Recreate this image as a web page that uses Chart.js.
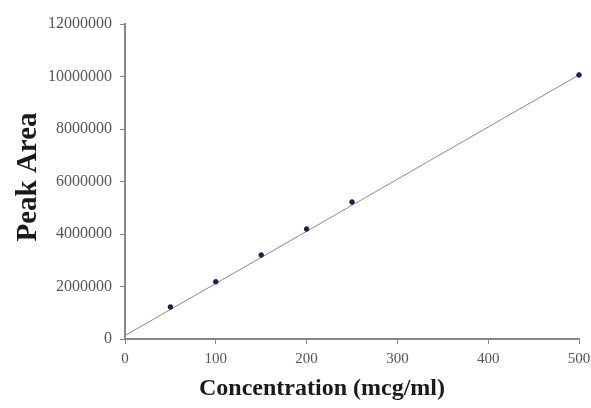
<!DOCTYPE html>
<html><head><meta charset="utf-8">
<script src="https://cdn.jsdelivr.net/npm/chart.js@4/dist/chart.umd.min.js"></script>
<style>html,body{margin:0;padding:0;background:#fff}#wrap{width:591px;height:408px}</style>
</head><body><div id="wrap"><canvas id="c" width="591" height="408"></canvas></div>
<script>
const concentrations = [50, 100, 150, 200, 250, 500];
const peakAreas = [1220000, 2180000, 3200000, 4190000, 5220000, 10060000];
const trendX = [0, 500];
const trendY = [130000, 10060000];
const xTicks = [0, 100, 200, 300, 400, 500];
const yTicks = [0, 2000000, 4000000, 6000000, 8000000, 10000000, 12000000];
const xTitle = 'Concentration (mcg/ml)';
const yTitle = 'Peak Area';

const pts = concentrations.map((x, i) => ({x, y: peakAreas[i]}));
const line = trendX.map((x, i) => ({x, y: trendY[i]}));

const titles = {
  id: 'titles',
  afterDraw(chart) {
    const ctx = chart.ctx;
    ctx.save();
    ctx.fillStyle = '#1a1a1a';
    ctx.textAlign = 'center';
    ctx.textBaseline = 'middle';
    ctx.font = 'bold 24px "Liberation Serif"';
    ctx.fillText(xTitle, 322, 389);
    ctx.translate(29, 177);
    ctx.rotate(-Math.PI / 2);
    ctx.font = 'bold 29px "Liberation Serif"';
    ctx.fillText(yTitle, 0, 0);
    ctx.restore();
  }
};

new Chart(document.getElementById('c'), {
  type: 'scatter',
  data: { datasets: [
    { label: 'Trend', type: 'line', data: line, borderColor: '#8a8a8a', borderWidth: 1, pointRadius: 0, fill: false, order: 2 },
    { label: 'Peak Area', data: pts, backgroundColor: '#1c1c5c', borderColor: '#1c1c5c', pointRadius: 2.3, pointStyle: 'circle', order: 1, clip: false }
  ]},
  options: {
    responsive: false, animation: false, devicePixelRatio: 1,
    layout: { padding: { top: 24, right: 12, left: 0, bottom: 0 } },
    plugins: { legend: { display: false }, tooltip: { enabled: false } },
    scales: {
      x: {
        type: 'linear', min: 0, max: 500,
        afterBuildTicks: s => { s.ticks = xTicks.map(v => ({value: v})); },
        afterFit: s => { s.height = 69; s.paddingRight = 0; s.paddingLeft = 0; },
        grid: { drawOnChartArea: false, drawTicks: true, tickLength: 5, color: '#888' },
        border: { color: '#888', width: 2 },
        ticks: { color: '#555', font: { family: 'Liberation Serif', size: 15 }, padding: 6, maxRotation: 0 },
        title: { display: false }
      },
      y: {
        type: 'linear', min: 0, max: 12000000,
        afterBuildTicks: s => { s.ticks = yTicks.map(v => ({value: v})); },
        afterFit: s => { s.width = 125; },
        grid: { drawOnChartArea: false, drawTicks: true, tickLength: 5, color: '#888' },
        border: { color: '#888', width: 2 },
        ticks: { color: '#555', font: { family: 'Liberation Serif', size: 16 }, padding: 8, callback: v => String(v) },
        title: { display: false }
      }
    }
  },
  plugins: [titles]
});
</script></body></html>
